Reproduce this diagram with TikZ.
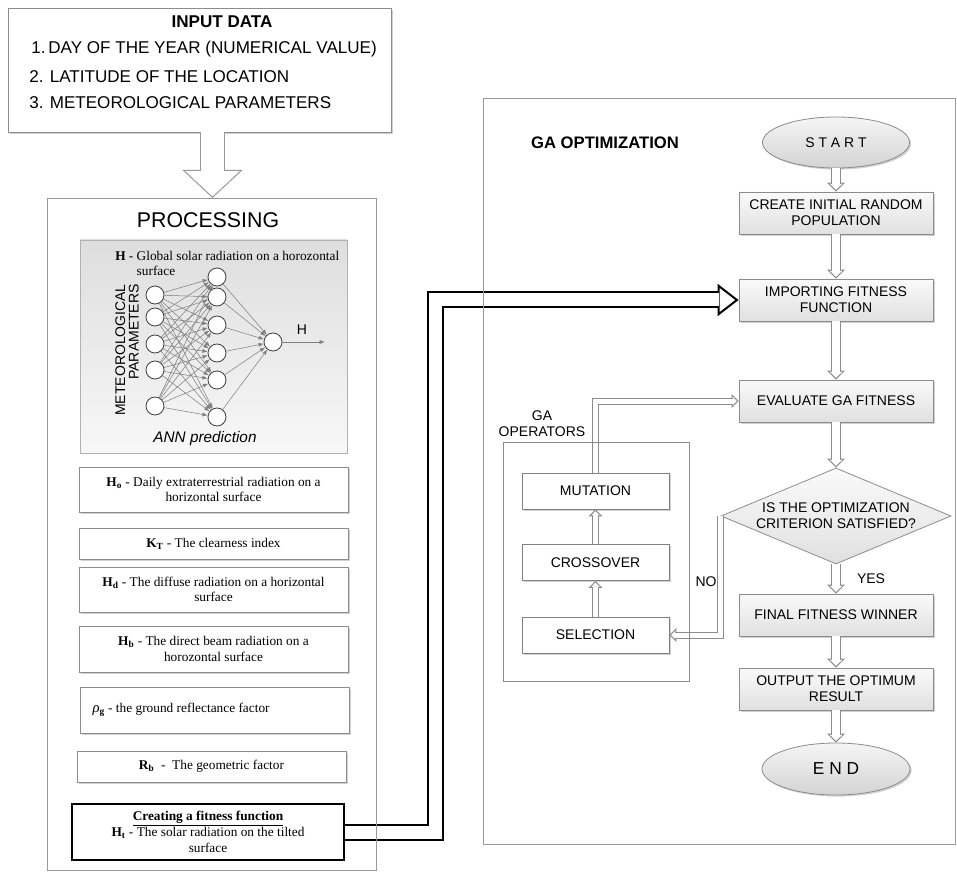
\documentclass[tikz,border=0pt]{standalone}
\usepackage{fontspec}
\setmainfont{Liberation Serif}
\setsansfont{Liberation Sans}
\usetikzlibrary{shapes.geometric,arrows.meta,shadows}

\begin{document}
\begin{tikzpicture}[x=0.75pt, y=-0.75pt,
    softshadow/.style={drop shadow={shadow xshift=1.2pt, shadow yshift=-1.2pt, fill=black!40, opacity=0.45}},
    panel/.style={draw=black!40, line width=0.6pt, inner sep=0pt},
    inbox/.style={draw=black!45, fill=white, line width=0.6pt, softshadow, minimum width=287.25pt, minimum height=93pt},
    annbox/.style={draw=black!30, line width=0.5pt, top color=black!13, bottom color=black!3, minimum width=200.25pt, minimum height=159.75pt},
    procbox/.style={draw=black!45, fill=white, line width=0.6pt, softshadow, minimum width=201.75pt, inner sep=0pt, align=flush center, font=\fontsize{10}{11.5}\selectfont},
    fitbox/.style={draw=black, fill=white, line width=1.5pt, minimum width=204pt, minimum height=42pt, inner sep=0pt, align=flush center, font=\fontsize{10}{12}\selectfont},
    flowbox/.style={draw=black!45, line width=0.6pt, top color=black!2, bottom color=black!12, softshadow, minimum width=145.5pt, minimum height=31.5pt, inner sep=0pt, align=flush center, font=\sffamily\fontsize{10.5}{12}\selectfont},
    terminal/.style={ellipse, draw=black!45, line width=0.6pt, top color=black!4, bottom color=black!17, softshadow, inner sep=0pt},
    decision/.style={diamond, aspect=2.4, draw=black!45, line width=0.6pt, top color=black!2, bottom color=black!12, minimum width=172.5pt, minimum height=72pt, inner sep=0pt, align=flush center, font=\sffamily\fontsize{10.5}{12}\selectfont},
    opbox/.style={draw=black!50, fill=white, line width=0.6pt, softshadow, minimum width=110.25pt, minimum height=27pt, inner sep=0pt, font=\sffamily\fontsize{10.5}{12}\selectfont},
    neuron/.style={circle, draw=black!75, fill=white, line width=0.6pt, minimum size=13.5pt, inner sep=0pt},
    synapse/.style={draw=black!50, line width=0.4pt, -{Latex[length=4pt, width=3pt]}},
    sanslabel/.style={font=\sffamily\fontsize{10.5}{12}\selectfont, inner sep=0pt},
    flowtip/.style={draw=black!45, line width=0.75pt, -{Triangle[fill=white, length=6.75pt, width=13.5pt]}},
    flowshaft/.style={draw=black!45, line width=0.75pt, double=white, double distance=6pt, shorten >=6pt},
    optip/.style={draw=black!45, line width=0.75pt, -{Triangle[fill=white, length=5.25pt, width=10.5pt]}},
    opshaft/.style={draw=black!45, line width=0.75pt, double=white, double distance=3.75pt, shorten >=4.5pt},
    bigtip/.style={draw=black!40, line width=0.75pt, -{Triangle[fill=white, length=21pt, width=45pt]}},
    bigshaft/.style={draw=black!40, line width=0.75pt, double=white, double distance=17.25pt, shorten >=20.25pt},
    fittip/.style={draw=black, line width=1.5pt, -{Triangle[fill=white, length=15.75pt, width=24pt]}},
    fitshaft/.style={draw=black, line width=1.5pt, double=white, double distance=9.75pt, shorten >=14.5pt}
  ]
  \useasboundingbox (0,0) rectangle (957,884);

  % input data
  \node[inbox] (input) at (199.5,70) {};
  \node[font=\sffamily\bfseries\fontsize{12.8}{14}\selectfont, anchor=base, inner sep=0pt] (intitle) at (222,28) {INPUT DATA};
  \foreach \t/\x/\y [count=\i] in {{1.\,DAY OF THE YEAR (NUMERICAL VALUE)}/31/54, {2. LATITUDE OF THE LOCATION}/29/83, {3. METEOROLOGICAL PARAMETERS}/29/109}
    \node[font=\sffamily\fontsize{12.8}{14}\selectfont, anchor=base west, inner sep=0pt] (inline\i) at (\x,\y) {\t};

  \coordinate (proctop) at (212.5,198);
  \draw[bigtip] (input.south -| proctop) -- (proctop);
  \draw[bigshaft] (input.south -| proctop) -- (proctop);

  % processing
  \node[font=\sffamily\fontsize{16}{18}\selectfont, anchor=base, inner sep=0pt] (proctitle) at (208,227.5) {PROCESSING};
  \node[annbox] (ann) at (213.5,346.5) {};
  \node[anchor=north west, inner sep=0pt, align=flush left, font=\fontsize{10}{11.25}\selectfont] (anntext) at (115,250.5) {\textbf{H} - Global solar radiation on a horozontal\\\phantom{\textbf{H} - }surface};

  % ANN
  \foreach \y [count=\i] in {295,317,344,370,406}
    \node[neuron] (in\i) at (155,\y) {};
  \foreach \y [count=\j] in {277,297,325,353,380,417}
    \node[neuron] (hid\j) at (217,\y) {};
  \node[neuron] (out) at (273,342) {};
  \coordinate (hend) at (325,342);
  \foreach \i in {1,...,5}
    \foreach \j in {1,...,6}
      \draw[synapse] (in\i) -- (hid\j);
  \foreach \j in {1,...,6}
    \draw[synapse] (hid\j) -- (out);
  \draw[synapse] (out) -- (hend);
  \node[sanslabel] (hlabel) at (302,330) {H};
  \node[sanslabel, rotate=90, align=flush right, font=\sffamily\fontsize{10.5}{10.2}\selectfont] (metlabel) at (127,350) {METEOROLOGICAL\\PARAMETERS};
  \node[font=\sffamily\itshape\fontsize{11.5}{13}\selectfont, inner sep=0pt] (annlabel) at (205,438.5) {ANN prediction};

  \node[procbox, minimum height=33.75pt] (ho) at (213.5,489.5) {\textbf{H\textsubscript{o}} - Daily extraterrestrial radiation on a\\horizontal surface};
  \node[procbox, minimum height=23.25pt] (kt) at (213.5,543.5) {\textbf{K\textsubscript{T}} - The clearness index};
  \node[procbox, minimum height=33.75pt] (hd) at (213.5,589.5) {\textbf{H\textsubscript{d}} - The diffuse radiation on a horizontal\\surface};
  \node[procbox, minimum height=34.5pt] (hb) at (213.5,649) {\textbf{H\textsubscript{b}} - The direct beam radiation on a\\horozontal surface};
  \node[procbox, minimum height=34.5pt, text width=183pt, align=flush left] (rho) at (214.5,710) {{\fontsize{11}{11}\selectfont\textit{ρ}}\textsubscript{\textbf{g}} - the ground reflectance factor};
  \node[procbox, minimum height=23.25pt] (rb) at (211.5,766.5) {\textbf{R\textsubscript{b}} \ - \ The geometric factor};
  \node[fitbox] (fit) at (208,832) {\textbf{\underline{Creating a fitness function}}\\\textbf{H\textsubscript{t}} - The solar radiation on the tilted\\surface};

  % GA optimization
  \node[font=\sffamily\bfseries\fontsize{12.5}{14}\selectfont, anchor=base, inner sep=0pt] (gatitle) at (605,149) {GA OPTIMIZATION};
  \node[terminal, minimum width=110.25pt, minimum height=38.25pt, font=\sffamily\fontsize{10.5}{12}\selectfont] (start) at (836,142.5) {S T A R T};
  \node[flowbox] (create) at (836,213) {CREATE INITIAL RANDOM\\POPULATION};
  \node[flowbox] (imp) at (836,300) {IMPORTING FITNESS\\FUNCTION};
  \node[flowbox] (eval) at (836,401) {EVALUATE GA FITNESS};
  \node[decision] (crit) at (836,516) {IS THE OPTIMIZATION\\CRITERION SATISFIED?};
  \node[flowbox] (final) at (836,615) {FINAL FITNESS WINNER};
  \node[flowbox] (result) at (836,689) {OUTPUT THE OPTIMUM\\RESULT};
  \node[terminal, minimum width=111pt, minimum height=39pt, font=\sffamily\fontsize{13}{15}\selectfont] (stop) at (836,769) {E N D};
  \foreach \a/\b in {start/create, create/imp, imp/eval, eval/crit, crit/final, final/result, result/stop} {
    \draw[flowtip] (\a.south) -- (\b.north);
    \draw[flowshaft] (\a.south) -- (\b.north);
  }
  \node[sanslabel] (yeslabel) at (871,579) {YES};
  \node[sanslabel] (nolabel) at (706,582) {NO};

  % GA operators
  \node[sanslabel, align=flush center] (opstitle) at (542,424) {GA\\OPERATORS};
  \node[opbox] (mut) at (595.5,491) {MUTATION};
  \node[opbox] (cross) at (595.5,562.5) {CROSSOVER};
  \node[opbox] (sel) at (595.5,635) {SELECTION};
  \foreach \a/\b in {sel/cross, cross/mut} {
    \draw[optip] (\a.north) -- (\b.south);
    \draw[opshaft] (\a.north) -- (\b.south);
  }
  \draw[optip] (mut.north) |- (eval.west);
  \draw[opshaft] (mut.north) |- (eval.west);
  \draw[optip] (crit.west) |- (sel.east);
  \draw[opshaft] (crit.west) |- (sel.east);

  % fitness function into GA
  \coordinate (bend) at (435.5,832);
  \draw[fittip] (fit.east) -- (bend) -- (bend |- imp.west) -- (imp.west);
  \draw[fitshaft] (fit.east) -- (bend) -- (bend |- imp.west) -- (imp.west);

  % panels
  \node[panel, minimum width=246.75pt, minimum height=504pt] (proc) at (211.5,534) {};
  \node[panel, minimum width=354pt, minimum height=559.5pt] (ga) at (719,471) {};
  \node[panel, draw=black!45, minimum width=139.5pt, minimum height=179.25pt] (ops) at (596,561.5) {};
\end{tikzpicture}
\end{document}
